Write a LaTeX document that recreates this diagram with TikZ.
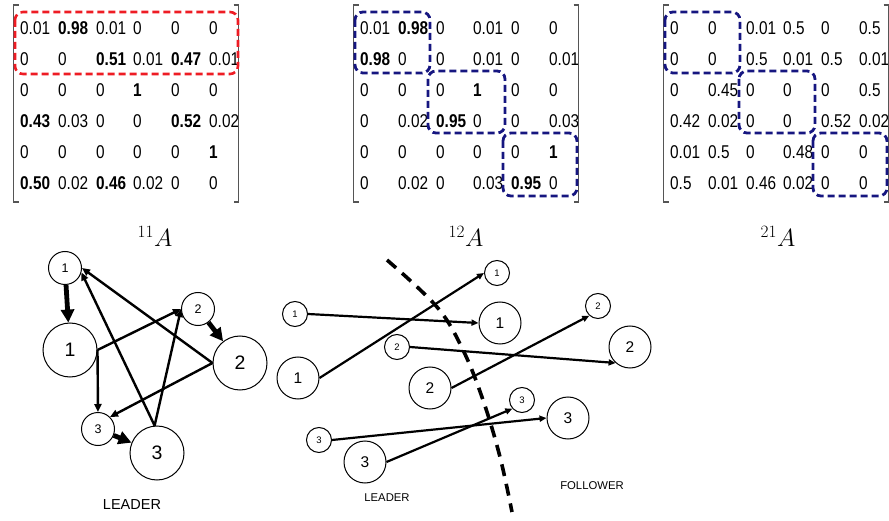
\documentclass[tikz,border=0pt]{standalone}
\usepackage{fontspec}
\setmainfont{Liberation Sans}
\newfontfamily\narrowsans[FakeStretch=0.83]{Liberation Sans}
\usetikzlibrary{arrows.meta}
\definecolor{boxred}{RGB}{238,28,36}
\definecolor{boxblue}{RGB}{22,22,128}
\definecolor{brackgray}{RGB}{85,85,85}

% one 6x6 matrix: #1 name, #2 x of first column, #3 rows
\newcommand\drawmatrix[3]{%
  \foreach \row [count=\r] in {#3} {
    \foreach \e [count=\c] in \row {
      \pgfmathsetmacro\cx{#2+{0,38,76,113,151,189}[\c-1]}
      \pgfmathsetmacro\cy{4+31*\r}
      \node[entry] (#1-\r-\c) at (\cx,\cy) {\e};
    }
  }
  \draw[bracket] ({#2-1.5},5) -- ({#2-6.5},5) -- ({#2-6.5},202) -- ({#2-1.5},202);
  \draw[bracket] ({#2+213.5},5) -- ({#2+218.5},5) -- ({#2+218.5},202) -- ({#2+213.5},202);
}

\begin{document}
\begin{tikzpicture}[x=1pt,y=-1pt,
  entry/.style={anchor=base west,inner sep=0pt,font=\narrowsans\fontsize{18.5}{18.5}\selectfont},
  bracket/.style={draw=brackgray,line width=1.6pt},
  redbox/.style={draw=boxred,line width=2.6pt,dash pattern=on 7pt off 4pt,rounded corners=8pt},
  bluebox/.style={draw=boxblue,line width=2.8pt,dash pattern=on 7pt off 4pt,rounded corners=8pt},
  matlabel/.style={inner sep=0pt,font=\fontsize{23}{26}\selectfont},
  smallnode/.style={circle,draw,line width=1pt,minimum size=33pt,inner sep=0pt,font=\fontsize{12.5}{12.5}\selectfont},
  bignode/.style={circle,draw,line width=1pt,minimum size=54pt,inner sep=0pt,font=\fontsize{19.5}{19.5}\selectfont},
  smallnoder/.style={circle,draw,line width=1pt,minimum size=25pt,inner sep=0pt,font=\fontsize{9.5}{9.5}\selectfont},
  bignoder/.style={circle,draw,line width=1pt,minimum size=42pt,inner sep=0pt,font=\fontsize{15.5}{15.5}\selectfont},
  thinarrow/.style={line width=2.4pt,-{Triangle[length=8pt,width=7pt]}},
  thickarrow/.style={line width=4.8pt,-{Triangle[length=13pt,width=13pt]}},
  rarrow/.style={line width=2.2pt,-{Triangle[length=7pt,width=6pt]}},
  caption/.style={inner sep=0pt,font=\fontsize{14.5}{14.5}\selectfont},
  captionr/.style={inner sep=0pt,font=\fontsize{11.3}{11.3}\selectfont}]
\useasboundingbox (0,0) rectangle (889,521);

% ---- matrices ----
\drawmatrix{ma}{20}{
  {0.01,\bfseries 0.98,0.01,0,0,0},
  {0,0,\bfseries 0.51,0.01,\bfseries 0.47,0.01},
  {0,0,0,\bfseries 1,0,0},
  {\bfseries 0.43,0.03,0,0,\bfseries 0.52,0.02},
  {0,0,0,0,0,\bfseries 1},
  {\bfseries 0.50,0.02,\bfseries 0.46,0.02,0,0}}
\draw[redbox] (15,12) rectangle (238,74);

\drawmatrix{mb}{360}{
  {0.01,\bfseries 0.98,0,0.01,0,0},
  {\bfseries 0.98,0,0,0.01,0,0.01},
  {0,0,0,\bfseries 1,0,0},
  {0,0.02,\bfseries 0.95,0,0,0.03},
  {0,0,0,0,0,\bfseries 1},
  {0,0.02,0,0.03,\bfseries 0.95,0}}
\draw[bluebox] (355,12) rectangle (430,73);
\draw[bluebox] (428,71) rectangle (505,133);
\draw[bluebox] (503,133) rectangle (577,196);

\drawmatrix{mc}{670}{
  {0,0,0.01,0.5,0,0.5},
  {0,0,0.5,0.01,0.5,0.01},
  {0,0.45,0,0,0,0.5},
  {0.42,0.02,0,0,0.52,0.02},
  {0.01,0.5,0,0.48,0,0},
  {0.5,0.01,0.46,0.02,0,0}}
\draw[bluebox] (665,12) rectangle (740,73);
\draw[bluebox] (739,71) rectangle (815,133);
\draw[bluebox] (813,133) rectangle (887,196);

\node[matlabel] (la) at (155,236) {$^{11}A$};
\node[matlabel] (lb) at (466,236) {$^{12}A$};
\node[matlabel] (lc) at (778,236) {$^{21}A$};

% ---- leader graph ----
\node[smallnode] (s1) at (65,268) {1};
\node[bignode]   (b1) at (70,350) {1};
\node[smallnode] (s2) at (198,309) {2};
\node[bignode]   (b2) at (240,363) {2};
\node[smallnode] (s3) at (98,429) {3};
\node[bignode]   (b3) at (157,453) {3};

\draw[thickarrow] (s1) -- (b1);
\draw[thickarrow] (s2) -- (b2);
\draw[thickarrow] (s3) -- (b3);
\draw[thinarrow] (b1.east) -- (s2.west);
\draw[thinarrow] (b1.east) -- (s3.north);
\draw[thinarrow] (b2.west) -- (s1.east);
\draw[thinarrow] (b2.west) -- (s3.45);
\draw[thinarrow] (b3.95) -- (s1.-15);
\draw[thinarrow] (b3.95) -- (s2.west);

\node[caption] (capa) at (132,505) {LEADER};

% ---- leader / follower graph ----
\node[smallnoder] (ls1) at (295,314) {1};
\node[bignoder]   (lb1) at (298,378) {1};
\node[smallnoder] (ls2) at (397,347) {2};
\node[bignoder]   (lb2) at (430,388) {2};
\node[smallnoder] (ls3) at (319,440) {3};
\node[bignoder]   (lb3) at (365,462) {3};
\node[smallnoder] (fs1) at (497,273) {1};
\node[bignoder]   (fb1) at (500,323) {1};
\node[smallnoder] (fs2) at (598,306) {2};
\node[bignoder]   (fb2) at (630,347) {2};
\node[smallnoder] (fs3) at (522,400) {3};
\node[bignoder]   (fb3) at (568,418) {3};

\draw[rarrow] (lb1.east) -- (fs1.west);
\draw[rarrow] (ls1.east) -- (fb1.west);
\draw[rarrow] (ls2.east) -- (fb2.228);
\draw[rarrow] (lb2.east) -- (fs2.228);
\draw[rarrow] (ls3.east) -- (fb3.west);
\draw[rarrow] (lb3.east) -- (fs3.222);

% boundary between leader and follower
\draw[line width=3.6pt,dash pattern=on 12pt off 8pt] plot[smooth,tension=0.6]
  coordinates {(387,260) (437,307) (463,350) (483,400) (500,457) (512,512)};

\node[captionr] (capb) at (387,498) {LEADER};
\node[captionr] (capc) at (592,486) {FOLLOWER};
\end{tikzpicture}
\end{document}
